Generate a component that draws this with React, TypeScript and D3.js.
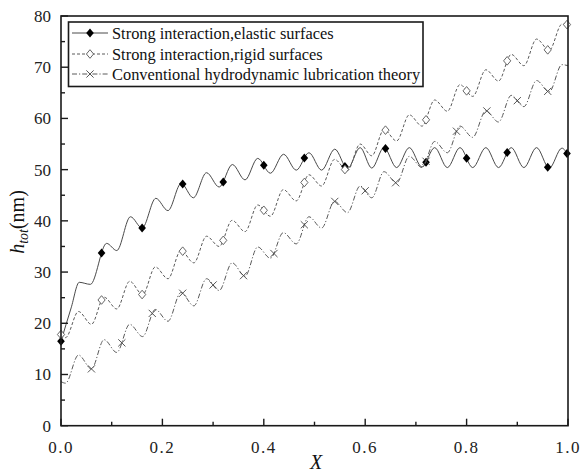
import React, { useEffect, useRef } from "react";
import * as d3 from "d3";

// ---- Data ----
const elasticX = [0, 0.02, 0.036, 0.058, 0.09, 0.11, 0.137, 0.16, 0.187, 0.211, 0.237, 0.261, 0.287, 0.312, 0.338, 0.363, 0.388, 0.413, 0.439, 0.464, 0.489, 0.514, 0.54, 0.565, 0.59, 0.613, 0.637, 0.662, 0.687, 0.712, 0.737, 0.762, 0.787, 0.812, 0.838, 0.863, 0.888, 0.913, 0.938, 0.963, 0.988, 1.0];
const elasticY = [16.5, 23.0, 28.0, 27.6, 35.6, 34.2, 40.8, 38.6, 44.4, 42.0, 47.3, 44.5, 49.4, 46.6, 51.0, 48.0, 52.2, 49.3, 53.0, 49.9, 53.3, 49.9, 54.0, 50.2, 54.3, 50.3, 54.3, 50.4, 54.3, 50.5, 54.3, 50.4, 54.3, 50.4, 54.3, 50.4, 54.3, 50.4, 54.3, 50.3, 54.2, 52.8];

const rigidX = [0, 0.009, 0.0345, 0.06, 0.085, 0.11, 0.1355, 0.161, 0.186, 0.211, 0.2365, 0.262, 0.287, 0.312, 0.3375, 0.363, 0.388, 0.413, 0.4385, 0.464, 0.489, 0.514, 0.5395, 0.565, 0.59, 0.613, 0.637, 0.662, 0.687, 0.712, 0.737, 0.762, 0.787, 0.812, 0.838, 0.863, 0.888, 0.913, 0.938, 0.963, 0.988, 1.0];
const rigidY = [17.8, 17.2, 22.3, 19.8, 25.1, 22.8, 28.2, 25.6, 31.0, 28.7, 34.2, 31.8, 37.0, 35.0, 40.1, 37.9, 43.1, 40.9, 46.1, 43.9, 49.0, 46.8, 52.0, 49.8, 55.0, 52.7, 57.8, 55.6, 60.7, 58.5, 63.6, 61.4, 66.6, 64.3, 69.5, 67.3, 72.5, 70.3, 75.5, 73.3, 78.4, 78.3];

const convX = [0, 0.009, 0.0345, 0.06, 0.085, 0.11, 0.1355, 0.161, 0.186, 0.211, 0.2365, 0.262, 0.287, 0.312, 0.3375, 0.363, 0.388, 0.413, 0.4385, 0.464, 0.489, 0.514, 0.5395, 0.565, 0.59, 0.613, 0.637, 0.662, 0.687, 0.712, 0.737, 0.762, 0.787, 0.812, 0.838, 0.863, 0.888, 0.913, 0.938, 0.963, 0.988, 1.0];
const convY = [8.6, 8.3, 13.8, 11.1, 16.8, 14.3, 19.8, 17.4, 22.7, 20.4, 26.0, 23.4, 28.7, 26.4, 31.8, 29.2, 34.9, 32.7, 37.7, 35.5, 40.8, 38.6, 43.8, 41.6, 46.8, 44.5, 49.6, 47.4, 52.6, 50.4, 55.5, 53.3, 58.5, 56.3, 61.5, 59.3, 64.5, 62.3, 67.4, 65.2, 70.5, 70.3];

const elasticMarkX = [0, 0.08, 0.16, 0.24, 0.32, 0.4, 0.48, 0.56, 0.64, 0.72, 0.8, 0.88, 0.96, 0.998];
const rigidMarkX = [0, 0.08, 0.16, 0.24, 0.32, 0.4, 0.48, 0.56, 0.64, 0.72, 0.8, 0.88, 0.96, 0.998];
const convMarkX = [0.06, 0.12, 0.18, 0.24, 0.3, 0.36, 0.42, 0.48, 0.54, 0.6, 0.66, 0.72, 0.78, 0.84, 0.9, 0.96];

const seriesNames = [
  "Strong interaction,elastic surfaces",
  "Strong interaction,rigid surfaces",
  "Conventional hydrodynamic lubrication theory",
];

const xTicks = [0, 0.2, 0.4, 0.6, 0.8, 1.0];
const xTickLabels = ["0.0", "0.2", "0.4", "0.6", "0.8", "1.0"];
const xMinorTicks = [0.1, 0.3, 0.5, 0.7, 0.9];
const yTicks = [0, 10, 20, 30, 40, 50, 60, 70, 80];
const yMinorTicks = [5, 15, 25, 35, 45, 55, 65, 75];

const W = 583;
const H = 472;
const M = { left: 61, right: 568, top: 16, bottom: 425.7 };
const FONT = "'Liberation Serif', 'Times New Roman', serif";

export default function App() {
  const ref = useRef<SVGSVGElement | null>(null);

  useEffect(() => {
    const svg = d3.select(ref.current);
    svg.selectAll("*").remove();

    const x = d3.scaleLinear().domain([0, 1]).range([M.left, M.right]);
    const y = d3.scaleLinear().domain([0, 80]).range([M.bottom, M.top]);

    const line = d3
      .line<[number, number]>()
      .x((d) => x(d[0]))
      .y((d) => y(d[1]))
      .curve(d3.curveMonotoneX);

    const series = [
      { xs: elasticX, ys: elasticY, dash: null as string | null, color: "#4a4a4a", marks: elasticMarkX, marker: "fdiamond" },
      { xs: rigidX, ys: rigidY, dash: "3,2", color: "#5a5a5a", marks: rigidMarkX, marker: "odiamond" },
      { xs: convX, ys: convY, dash: "5,2,1.2,2", color: "#5a5a5a", marks: convMarkX, marker: "cross" },
    ];

    const plot = svg.append("g");

    const drawMarker = (g: any, kind: string, cx: number, cy: number) => {
      if (kind === "fdiamond") {
        g.append("path")
          .attr("d", `M${cx},${cy - 4.5}L${cx + 3.8},${cy}L${cx},${cy + 4.5}L${cx - 3.8},${cy}Z`)
          .attr("fill", "#000");
      } else if (kind === "odiamond") {
        g.append("path")
          .attr("d", `M${cx},${cy - 4.3}L${cx + 3.6},${cy}L${cx},${cy + 4.3}L${cx - 3.6},${cy}Z`)
          .attr("fill", "#fff")
          .attr("stroke", "#555")
          .attr("stroke-width", 0.9);
      } else {
        const r = 3.6;
        g.append("path")
          .attr("d", `M${cx - r},${cy - r}L${cx + r},${cy + r}M${cx - r},${cy + r}L${cx + r},${cy - r}`)
          .attr("stroke", "#444")
          .attr("stroke-width", 0.9)
          .attr("fill", "none");
      }
    };

    series.forEach((s) => {
      const pts: [number, number][] = s.xs.map((v, i) => [v, s.ys[i]]);
      const p = plot
        .append("path")
        .attr("d", line(pts) as string)
        .attr("fill", "none")
        .attr("stroke", s.color)
        .attr("stroke-width", 1);
      if (s.dash) p.attr("stroke-dasharray", s.dash);

      const node = p.node() as SVGPathElement;
      const total = node.getTotalLength();
      s.marks.forEach((mx) => {
        const tx = x(mx);
        let lo = 0;
        let hi = total;
        for (let k = 0; k < 40; k++) {
          const mid = (lo + hi) / 2;
          if (node.getPointAtLength(mid).x < tx) lo = mid;
          else hi = mid;
        }
        const pt = node.getPointAtLength((lo + hi) / 2);
        drawMarker(plot, s.marker, pt.x, pt.y);
      });
    });

    // Frame
    const axisColor = "#1a1a1a";
    svg
      .append("rect")
      .attr("x", M.left)
      .attr("y", M.top)
      .attr("width", M.right - M.left)
      .attr("height", M.bottom - M.top)
      .attr("fill", "none")
      .attr("stroke", axisColor)
      .attr("stroke-width", 1.6);

    // X ticks
    xTicks.forEach((t, i) => {
      svg
        .append("line")
        .attr("x1", x(t))
        .attr("x2", x(t))
        .attr("y1", M.bottom)
        .attr("y2", M.bottom - 7)
        .attr("stroke", axisColor)
        .attr("stroke-width", 1.4);
      svg
        .append("text")
        .attr("x", x(t))
        .attr("y", 453)
        .attr("text-anchor", "middle")
        .attr("font-family", FONT)
        .attr("font-size", 17)
        .attr("letter-spacing", 1.5)
        .attr("fill", "#222")
        .text(xTickLabels[i]);
    });
    xMinorTicks.forEach((t) => {
      svg
        .append("line")
        .attr("x1", x(t))
        .attr("x2", x(t))
        .attr("y1", M.bottom)
        .attr("y2", M.bottom - 4)
        .attr("stroke", axisColor)
        .attr("stroke-width", 1.4);
    });

    // Y ticks
    yTicks.forEach((t) => {
      svg
        .append("line")
        .attr("x1", M.left)
        .attr("x2", M.left + 7)
        .attr("y1", y(t))
        .attr("y2", y(t))
        .attr("stroke", axisColor)
        .attr("stroke-width", 1.4);
      svg
        .append("text")
        .attr("x", 51)
        .attr("y", y(t) + 6)
        .attr("text-anchor", "end")
        .attr("font-family", FONT)
        .attr("font-size", 17)
        .attr("fill", "#222")
        .text(String(t));
    });
    yMinorTicks.forEach((t) => {
      svg
        .append("line")
        .attr("x1", M.left)
        .attr("x2", M.left + 4)
        .attr("y1", y(t))
        .attr("y2", y(t))
        .attr("stroke", axisColor)
        .attr("stroke-width", 1.4);
    });

    // Axis titles
    svg
      .append("text")
      .attr("x", 316)
      .attr("y", 469)
      .attr("text-anchor", "middle")
      .attr("font-family", FONT)
      .attr("font-style", "italic")
      .attr("font-size", 20)
      .attr("fill", "#111")
      .text("X");

    const yt = svg
      .append("text")
      .attr("transform", "translate(24,222) rotate(-90)")
      .attr("text-anchor", "middle")
      .attr("font-family", FONT)
      .attr("font-size", 20)
      .attr("fill", "#111");
    yt.append("tspan").attr("font-style", "italic").text("h");
    yt.append("tspan").attr("font-style", "italic").attr("font-size", 14).attr("dy", 4).text("tot");
    yt.append("tspan").attr("dy", -4).text("(nm)");

    // Legend
    const lg = svg.append("g");
    lg.append("rect")
      .attr("x", 68.5)
      .attr("y", 22)
      .attr("width", 354.5)
      .attr("height", 64.5)
      .attr("fill", "#fff")
      .attr("stroke", axisColor)
      .attr("stroke-width", 1.6);
    const rowY = [33, 54, 74];
    series.forEach((s, i) => {
      const l = lg
        .append("line")
        .attr("x1", 72)
        .attr("x2", 108)
        .attr("y1", rowY[i])
        .attr("y2", rowY[i])
        .attr("stroke", s.color)
        .attr("stroke-width", 1);
      if (s.dash) l.attr("stroke-dasharray", s.dash);
      drawMarker(lg, s.marker, 90, rowY[i]);
      lg.append("text")
        .attr("x", 112)
        .attr("y", rowY[i] + 5.5)
        .attr("font-family", FONT)
        .attr("font-size", 16.4)
        .attr("fill", "#111")
        .text(seriesNames[i]);
    });
  }, []);

  return (
    <div style={{ position: "absolute", left: 0, top: 0, width: W, height: H, background: "#fff" }}>
      <svg ref={ref} width={W} height={H} style={{ display: "block" }} />
    </div>
  );
}
